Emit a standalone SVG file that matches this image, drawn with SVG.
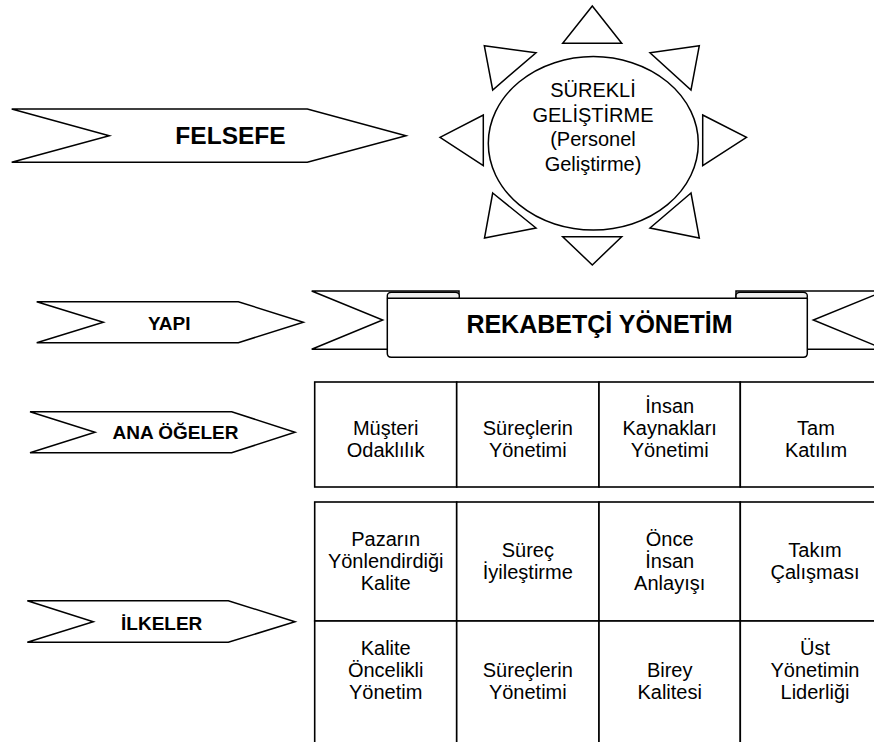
<svg xmlns="http://www.w3.org/2000/svg" width="874" height="742" viewBox="0 0 874 742">
<style>
.ln{fill:#fff;stroke:#000;stroke-width:1.5;stroke-linejoin:miter}
.cl{fill:#fff;stroke:#000;stroke-width:1.6}
.lbl{font-family:"Liberation Sans",Arial,Helvetica,sans-serif;font-weight:bold;text-anchor:middle;fill:#000}
.t{font-family:"Liberation Sans",Arial,Helvetica,sans-serif;font-size:20px;text-anchor:middle;fill:#000}
.curl{fill:#efefef;stroke:#000;stroke-width:1.4}
</style>
<rect width="874" height="742" fill="#fff"/>

<g id="felsefe">
<polygon class="ln" points="11.7,109 307.3,109 406,135.7 307.3,162.3 11.7,162.3 109.3,135.7"/>
<text class="lbl" x="230.5" y="143.5" font-size="24.5">FELSEFE</text>
</g>

<g id="surekli-gelistirme">
<polygon class="ln" points="592.3,6 621.7,43.3 562.7,43.3"/>
<polygon class="ln" points="562.7,236.7 621.7,236.7 592.3,265"/>
<polygon class="ln" points="440,137.3 483.3,115 483.3,165.7"/>
<polygon class="ln" points="702.7,115 746.5,137.3 702.7,165.7"/>
<polygon class="ln" points="484.3,45.7 536,52.7 492.7,90"/>
<polygon class="ln" points="699.3,45.7 650,52.7 691,90"/>
<polygon class="ln" points="492.7,193 536,228 484.5,238"/>
<polygon class="ln" points="691,193 650,228 699.3,238"/>
<ellipse class="ln" cx="593.3" cy="143.3" rx="105" ry="86.7"/>
<text class="t" font-size="22" x="593" y="97">SÜREKLİ</text>
<text class="t" font-size="22" x="593" y="121.5">GELİŞTİRME</text>
<text class="t" font-size="22" x="593" y="146">(Personel</text>
<text class="t" font-size="22" x="593" y="170.5">Geliştirme)</text>
</g>

<g id="yapi">
<polygon class="ln" points="36.7,301.7 238.3,301.7 303.3,322.3 238.3,342.7 36.7,342.7 103.3,322.3"/>
<text class="lbl" x="169.2" y="330" font-size="19">YAPI</text>
</g>

<g id="rekabetci-yonetim">
<polygon class="ln" points="311.7,291 459,291 459,349.3 311.7,349.3 382.7,320"/>
<polygon class="ln" points="736,291 884.3,291 813.3,320 884.3,349.3 736,349.3"/>
<rect class="curl" x="387.3" y="292.3" width="72" height="8" rx="4" ry="3.5"/>
<rect class="curl" x="736" y="292.3" width="71.3" height="8" rx="4" ry="3.5"/>
<path class="ln" d="M387.3,298.3 L807.3,298.3 L807.3,353.3 Q807.3,357.3 803.3,357.3 L391.3,357.3 Q387.3,357.3 387.3,353.3 Z"/>
<text class="lbl" x="599.5" y="333" font-size="25">REKABETÇİ YÖNETİM</text>
</g>

<g id="ana-ogeler">
<polygon class="ln" points="30,411.7 231.7,411.7 295,432.3 231.7,452.7 30,452.7 95,432.3"/>
<text class="lbl" x="175.5" y="438.5" font-size="19">ANA ÖĞELER</text>
</g>

<g id="ilkeler">
<polygon class="ln" points="27.3,600.7 228.3,600.7 295,621.7 228.3,642.3 27.3,642.3 93.3,621.7"/>
<text class="lbl" x="161.7" y="630" font-size="19">İLKELER</text>
</g>

<g id="musteri-odaklilik">
<rect class="cl" x="314.7" y="382" width="142" height="105"/>
<text class="t" x="385.7" y="435">Müşteri</text>
<text class="t" x="385.7" y="457">Odaklılık</text>
</g>
<g id="sureclerin-yonetimi-1">
<rect class="cl" x="456.7" y="382" width="142.3" height="105"/>
<text class="t" x="527.8" y="435">Süreçlerin</text>
<text class="t" x="527.8" y="457">Yönetimi</text>
</g>
<g id="insan-kaynaklari">
<rect class="cl" x="599" y="382" width="141.3" height="105"/>
<text class="t" x="669.7" y="413">İnsan</text>
<text class="t" x="669.7" y="435">Kaynakları</text>
<text class="t" x="669.7" y="457">Yönetimi</text>
</g>
<g id="tam-katilim">
<rect class="cl" x="740.3" y="382" width="150" height="105"/>
<text class="t" x="816" y="435">Tam</text>
<text class="t" x="816" y="457">Katılım</text>
</g>

<g id="pazarin-kalite">
<rect class="cl" x="314.7" y="502" width="142" height="119"/>
<text class="t" x="385.7" y="546">Pazarın</text>
<text class="t" x="385.7" y="568">Yönlendirdiği</text>
<text class="t" x="385.7" y="590">Kalite</text>
</g>
<g id="surec-iyilestirme">
<rect class="cl" x="456.7" y="502" width="142.3" height="119"/>
<text class="t" x="527.8" y="557">Süreç</text>
<text class="t" x="527.8" y="579">İyileştirme</text>
</g>
<g id="once-insan">
<rect class="cl" x="599" y="502" width="141.3" height="119"/>
<text class="t" x="669.7" y="546">Önce</text>
<text class="t" x="669.7" y="568">İnsan</text>
<text class="t" x="669.7" y="590">Anlayışı</text>
</g>
<g id="takim-calismasi">
<rect class="cl" x="740.3" y="502" width="150" height="119"/>
<text class="t" x="815" y="557">Takım</text>
<text class="t" x="815" y="579">Çalışması</text>
</g>

<g id="kalite-oncelikli">
<rect class="cl" x="314.7" y="621" width="142" height="140"/>
<text class="t" x="385.7" y="655">Kalite</text>
<text class="t" x="385.7" y="677">Öncelikli</text>
<text class="t" x="385.7" y="699">Yönetim</text>
</g>
<g id="sureclerin-yonetimi-2">
<rect class="cl" x="456.7" y="621" width="142.3" height="140"/>
<text class="t" x="527.8" y="677">Süreçlerin</text>
<text class="t" x="527.8" y="699">Yönetimi</text>
</g>
<g id="birey-kalitesi">
<rect class="cl" x="599" y="621" width="141.3" height="140"/>
<text class="t" x="669.7" y="677">Birey</text>
<text class="t" x="669.7" y="699">Kalitesi</text>
</g>
<g id="ust-yonetim">
<rect class="cl" x="740.3" y="621" width="150" height="140"/>
<text class="t" x="815" y="655">Üst</text>
<text class="t" x="815" y="677">Yönetimin</text>
<text class="t" x="815" y="699">Liderliği</text>
</g>

<g id="connectors"></g>
</svg>
